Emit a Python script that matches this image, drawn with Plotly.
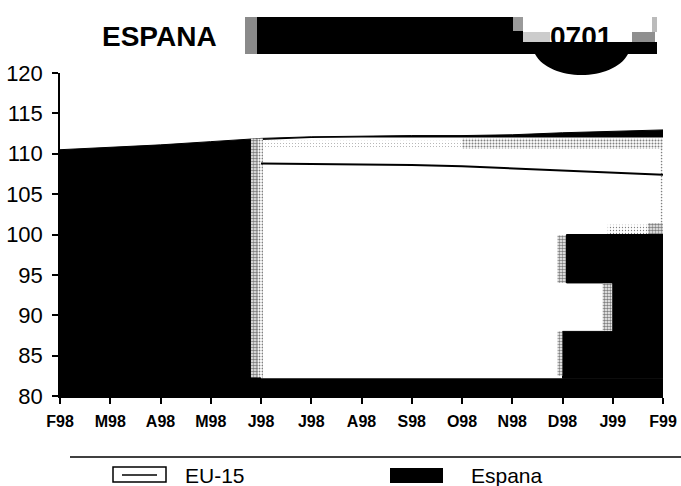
import plotly.graph_objects as go

W, H = 681, 486
L, R, T, B = 60, 663, 73, 396

months = ["F98","M98","A98","M98","J98","J98","A98","S98","O98","N98","D98","J99","F99"]
idx = list(range(len(months)))
espana_top = [110.5,110.8,111.1,111.5,111.9,112.1,112.2,112.25,112.25,112.35,112.6,112.8,112.95]
eu15 = [None,None,None,None,108.8,108.75,108.7,108.6,108.45,108.2,107.95,107.7,107.4]
gap_top = [None,None,None,None,111.7,111.95,112.0,112.0,112.0,112.0,112.0,112.0,112.0]
gap_bottom = [None,None,None,None,82.2,82.2,82.2,82.2,82.2,82.2,82.2,82.2,82.2]
y_ticks = [80,85,90,95,100,105,110,115,120]

# stepped Espana blocks at the right: start month index, low, high
block_start = [10.0, 11.0, 10.08]
block_low = [82.2, 88.0, 94.0]
block_high = [88.0, 94.0, 100.0]

def px(x): return (x - L) / (R - L)
def py(y): return (B - y) / (B - T)

def patch(x0, x1, y0, y1, color, solidity, size=3):
    return go.Scatter(x=[x0,x1,x1,x0,x0], y=[y0,y0,y1,y1,y0], mode="none", fill="toself",
                      fillcolor="white", hoverinfo="skip", showlegend=False,
                      fillpattern=dict(shape=".", fgcolor=color, bgcolor="white",
                                       size=size, solidity=solidity))

fig = go.Figure()
fig.add_trace(go.Scatter(x=idx, y=espana_top, mode="lines", line=dict(color="black", width=1),
                         fill="tozeroy", fillcolor="black", name="Espana", showlegend=False))
fig.add_trace(go.Scatter(x=idx[4:], y=gap_bottom[4:], mode="lines", line=dict(color="white", width=0),
                         showlegend=False, hoverinfo="skip"))
fig.add_trace(go.Scatter(x=idx[4:], y=gap_top[4:], mode="lines", line=dict(color="white", width=0),
                         fill="tonexty", fillcolor="white", showlegend=False, hoverinfo="skip"))
fig.add_trace(patch(4.0, 8.0, 110.6, 111.6, "black", 0.08))
fig.add_trace(patch(8.0, 12.0, 110.6, 111.9, "black", 0.35))
fig.add_trace(patch(3.8, 3.93, 82.3, 111.9, "black", 0.65))
fig.add_trace(patch(3.93, 4.04, 82.3, 111.9, "black", 0.3))
fig.add_trace(patch(11.95, 12.0, 100.0, 110.6, "black", 0.25))
fig.add_trace(patch(10.9, 11.7, 100.0, 101.2, "black", 0.15))
fig.add_trace(patch(11.7, 12.0, 100.0, 101.4, "black", 0.6))
for s, lo, hi in zip(block_start, block_low, block_high):
    fig.add_trace(go.Scatter(x=[s,12,12,s,s], y=[lo,lo,hi,hi,lo], mode="lines", fill="toself",
                             fillcolor="black", line=dict(color="black", width=1),
                             showlegend=False, hoverinfo="skip"))
fig.add_trace(patch(9.9, 10.0, 82.5, 88.0, "black", 0.5))
fig.add_trace(patch(9.9, 10.07, 94.0, 99.9, "black", 0.55))
fig.add_trace(patch(10.8, 10.98, 88.1, 93.9, "black", 0.55))
fig.add_trace(go.Scatter(x=idx, y=eu15, mode="lines", line=dict(color="black", width=2),
                         name="EU-15", showlegend=False))

def rect(x0, y0, x1, y1, fill, line=None):
    return dict(type="rect", xref="paper", yref="paper", x0=px(x0), x1=px(x1), y0=py(y0), y1=py(y1),
                fillcolor=fill, line=dict(color=line or fill, width=1.5 if line else 0))

shapes = [
    rect(245, 17, 257, 54, "#8a8a8a"),
    rect(257, 17, 513, 54, "black"),
    rect(513, 17, 523, 31, "#9a9a9a"),
    rect(513, 31, 523, 54, "black"),
    rect(523, 32, 550, 42, "#cccccc"),
    rect(632, 32, 655, 42, "#8f8f8f"),
    rect(652, 17, 657, 32, "#bbbbbb"),
    rect(523, 42, 657, 54, "black"),
    dict(type="path", xref="paper", yref="paper",
         path=f"M {px(535)},{py(54)} C {px(550)},{py(82)} {px(613)},{py(82)} {px(628)},{py(54)} Z",
         fillcolor="black", line=dict(width=0)),
    dict(type="line", xref="paper", yref="paper", x0=px(70), x1=px(681), y0=py(457), y1=py(457),
         line=dict(color="black", width=1.5)),
    rect(113, 467, 166, 482, "white", "black"),
    dict(type="line", xref="paper", yref="paper", x0=px(122), x1=px(157), y0=py(475), y1=py(475),
         line=dict(color="black", width=1.5)),
    rect(390, 468, 443, 483, "black"),
]

def label(x, y, text, size, bold=False, anchor="left"):
    return dict(xref="paper", yref="paper", x=px(x), y=py(y), text=f"<b>{text}</b>" if bold else text,
                showarrow=False, xanchor=anchor, yanchor="middle", borderpad=0,
                font=dict(family="Liberation Sans", size=size, color="black"))

annotations = [
    label(101, 36, "ESPANA", 28, True),
    label(581, 36, "0701", 28, True, "center"),
    label(184, 475, "EU-15", 21),
    label(470, 475, "Espana", 21),
]

fig.update_layout(
    width=W, height=H, autosize=False, paper_bgcolor="white", plot_bgcolor="white",
    margin=dict(l=L, r=W-R, t=T, b=H-B, pad=0), showlegend=False, shapes=shapes, annotations=annotations,
    font=dict(family="Liberation Sans", color="black"),
    xaxis=dict(range=[0,12], tickmode="array", tickvals=idx, ticktext=[f"<b>{m}</b>" for m in months],
               ticks="outside", ticklen=6, tickwidth=2, tickcolor="black", showline=True, linecolor="black",
               linewidth=1.5, showgrid=False, zeroline=False, tickfont=dict(size=16), ticklabelstandoff=4,
               tickangle=0, automargin=False),
    yaxis=dict(range=[80,120], tickmode="array", tickvals=y_ticks, ticks="outside", ticklen=6, tickwidth=1.5,
               tickcolor="black", showline=True, linecolor="black", linewidth=1.5, showgrid=False, zeroline=False,
               tickfont=dict(size=22), ticklabelstandoff=5, automargin=False),
)
fig.write_html("out.html", config=dict(displayModeBar=False),
               post_script="document.body.style.margin='0';document.documentElement.style.overflow='hidden';")
